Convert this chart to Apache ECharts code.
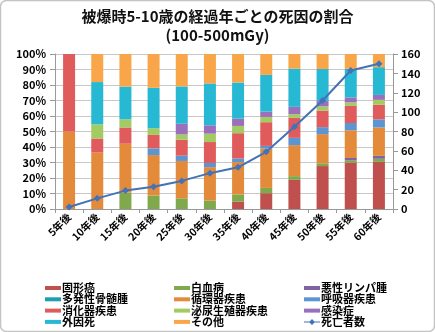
<!DOCTYPE html>
<html><head><meta charset="utf-8">
<script src="https://cdn.jsdelivr.net/npm/echarts@6/dist/echarts.min.js"></script>
<style>html,body{margin:0;padding:0;background:#fff}#c{width:435px;height:332px}</style>
</head><body><div id="c"></div>
<script>
const categories = ['5年後','10年後','15年後','20年後','25年後','30年後','35年後','40年後','45年後','50年後','55年後','60年後'];
const solidCancer   = [0, 0,    0,    0,    0,    0,    4.7,  10.2, 18.8, 27.7, 30.0, 30.4];
const leukemia      = [0, 0,    10.5, 8.7,  6.9,  5.4,  4.7,  3.4,  2.4,  1.8,  1.5,  2.0];
const lymphoma      = [0, 0,    0,    0,    0,    0,    0,    0,    0,    0,    1.4,  1.9];
const myeloma       = [0, 0,    0,    0,    0,    0,    0,    0,    0,    0,    0,    0];
const circulatory   = [50, 36.4, 31.6, 26.1, 24.1, 21.6, 20.9, 25.4, 20.0, 18.8, 17.9, 18.3];
const respiratory   = [0, 0,    0,    4.3,  3.4,  2.7,  2.3,  1.7,  4.7,  4.5,  4.7,  5.2];
const digestive     = [50, 9.1, 10.5, 8.7,  10.3, 13.5, 16.3, 15.3, 12.9, 10.7, 11.0, 9.5];
const urogenital    = [0, 9.1,  5.3,  4.3,  3.4,  5.4,  4.7,  3.4,  2.4,  2.7,  2.3,  3.1];
const infection     = [0, 0,    0,    0,    6.9,  5.4,  4.7,  3.4,  4.7,  3.6,  3.2,  3.2];
const external      = [0, 27.3, 21.1, 26.1, 24.1, 27.0, 23.3, 23.7, 24.7, 20.5, 18.4, 17.9];
const other         = [0, 18.2, 21.0, 21.8, 20.9, 19.0, 18.4, 13.5, 9.4,  9.7,  9.6,  8.5];
const deaths        = [2, 11, 19, 23, 29, 37, 43, 59, 85, 112, 143, 150];
const leftTicks = {min: 0, max: 100, interval: 10};
const rightTicks = {min: 0, max: 160, interval: 20};
const titleLines = ['被爆時5-10歳の経過年ごとの死因の割合', '(100-500mGy)'];

const barSeries = [
  ['固形癌', solidCancer, '#C0504D'],
  ['白血病', leukemia, '#7FA94C'],
  ['悪性リンパ腫', lymphoma, '#8064A2'],
  ['多発性骨髄腫', myeloma, '#1E9DB3'],
  ['循環器疾患', circulatory, '#E38B3B'],
  ['呼吸器疾患', respiratory, '#5C95D1'],
  ['消化器疾患', digestive, '#E05C5C'],
  ['泌尿生殖器疾患', urogenital, '#A2CB63'],
  ['感染症', infection, '#9C6FBB'],
  ['外因死', external, '#27B9D3'],
  ['その他', other, '#F9A64B']
];
const font = '"Noto Sans CJK JP", "Noto Sans", sans-serif';
const chart = echarts.init(document.getElementById('c'), null, {renderer: 'canvas'});
const series = barSeries.map(([name, data, color]) => ({
  name, type: 'bar', stack: 'total', data, barWidth: 12,
  itemStyle: {color}, yAxisIndex: 0
}));
series.push({
  name: '死亡者数', type: 'line', data: deaths, yAxisIndex: 1,
  symbol: 'diamond', symbolSize: 7, lineStyle: {color: '#4272B8', width: 2},
  itemStyle: {color: '#4272B8'}, z: 10
});
const legendNames = ['固形癌','白血病','悪性リンパ腫','多発性骨髄腫','循環器疾患','呼吸器疾患','消化器疾患','泌尿生殖器疾患','感染症','外因死','その他','死亡者数'];
const colLeft = [45, 174, 304];
const legends = legendNames.map((name, i) => {
  const row = Math.floor(i / 3), col = i % 3;
  const isLine = name === '死亡者数';
  return {
    orient: 'horizontal', left: colLeft[col], top: 282.5 + row * 11.3, padding: 0,
    itemWidth: 16, itemHeight: isLine ? 7 : 4,
    textStyle: {fontFamily: font, fontSize: 11, fontWeight: 'bold', color: '#000', lineHeight: 11, padding: [0,0,0,-4]},
    data: [isLine ? {name, icon: 'path://M0,3L5.5,3L8,0.5L10.5,3L16,3L16,4L10.5,4L8,6.5L5.5,4L0,4Z'} : {name, icon: 'rect'}]
  };
});
chart.setOption({
  animation: false,
  backgroundColor: '#fff',
  title: [
    {text: titleLines[0], left: 'center', top: 4, textStyle: {fontFamily: font, fontSize: 15, fontWeight: 'bold', color: '#111'}},
    {text: titleLines[1], left: 'center', top: 23, textStyle: {fontFamily: font, fontSize: 15, fontWeight: 'bold', color: '#111'}}
  ],
  graphic: [{type: 'rect', shape: {x: 0.5, y: 0.5, width: 434, height: 331, r: 6}, style: {fill: 'none', stroke: '#c4c4c4', lineWidth: 1.5}, silent: true}],
  legend: legends,
  grid: {left: 55, right: 42, top: 54, bottom: 123},
  xAxis: {
    type: 'category', data: categories,
    axisLine: {lineStyle: {color: '#999'}},
    axisTick: {show: true, length: 4, lineStyle: {color: '#999'}},
    axisLabel: {rotate: 45, fontFamily: font, fontSize: 10.5, fontWeight: 'bold', color: '#000', margin: 6}
  },
  yAxis: [
    {type: 'value', min: leftTicks.min, max: leftTicks.max, interval: leftTicks.interval,
     axisLine: {show: true, lineStyle: {color: '#999'}},
     axisTick: {show: true, length: 5, lineStyle: {color: '#999'}},
     splitLine: {lineStyle: {color: '#c8c8c8'}},
     axisLabel: {formatter: '{value}%', fontFamily: font, fontSize: 11, fontWeight: 'bold', color: '#000', margin: 9}},
    {type: 'value', min: rightTicks.min, max: rightTicks.max, interval: rightTicks.interval, position: 'right',
     axisLine: {show: true, lineStyle: {color: '#999'}},
     axisTick: {show: true, length: 5, lineStyle: {color: '#999'}},
     splitLine: {show: false},
     axisLabel: {fontFamily: font, fontSize: 11, fontWeight: 'bold', color: '#000', margin: 8}}
  ],
  series
});
</script></body></html>
